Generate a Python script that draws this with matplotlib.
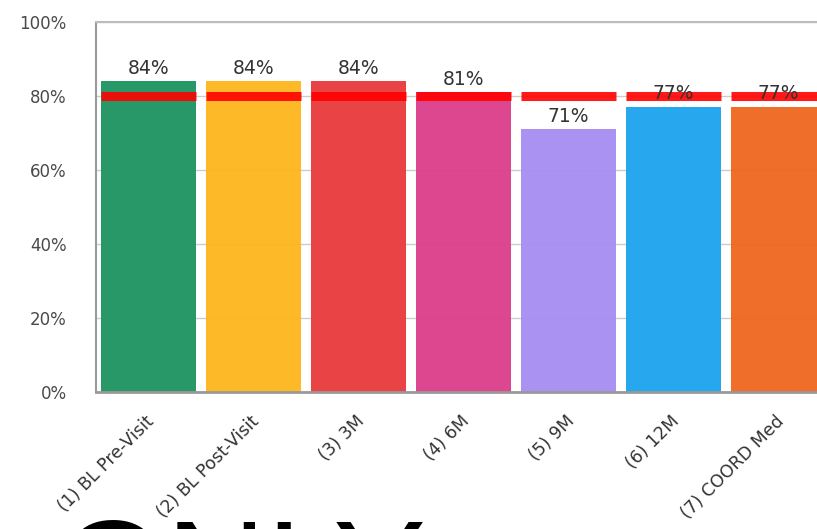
#!/usr/bin/env python3
"""Bar chart of visit percentages with 80% target markers."""

import matplotlib
matplotlib.use("Agg")
import matplotlib.pyplot as plt
from matplotlib.transforms import ScaledTranslation

# data
categories = ["(1) BL Pre-Visit", "(2) BL Post-Visit", "(3) 3M", "(4) 6M",
              "(5) 9M", "(6) 12M", "(7) COORD Med"]
values = [84, 84, 84, 81, 71, 77, 77]
targets = [80, 80, 80, 80, 80, 80, 80]
bar_colors = ["#1d9360", "#fdb51c", "#e8393c", "#dc3d8a",
              "#a68cf2", "#1ba4ee", "#ef661e"]
y_ticks = [0, 20, 40, 60, 80, 100]

W, H = 817, 529
fig = plt.figure(figsize=(W / 100, H / 100), dpi=100)
plt.rcParams["font.family"] = ["DejaVu Sans"]

# axes runs past the right edge, as in the cropped original
ax = fig.add_axes([96 / W, (H - 392) / H, 735 / W, 370 / H])

x = list(range(len(categories)))
ax.bar(x, values, width=0.9, color=bar_colors, alpha=0.95, linewidth=0, zorder=2)

# target markers
ax.hlines(targets, [i - 0.45 for i in x], [i + 0.45 for i in x],
          colors="#ff0000", linewidth=6.5, alpha=0.9, zorder=3)

for i, v in zip(x, values):
    ax.annotate(f"{v}%", (i, v), xytext=(0, 9.5), textcoords="offset points",
                ha="center", va="center", fontsize=13.5, color="#333333", zorder=4)

ax.set_xlim(-0.5, len(categories) - 0.5)
ax.set_ylim(0, 100)
ax.set_yticks(y_ticks)
ax.set_yticklabels([f"{t}%" for t in y_ticks], fontsize=12, color="#4a4a4a")
ax.tick_params(axis="y", length=0, pad=21)
ax.yaxis.grid(True, color="#cccccc", linewidth=1, zorder=0)
ax.set_axisbelow(True)

ax.set_xticks(x)
ax.set_xticklabels(categories, rotation=45, ha="right", va="center",
                   rotation_mode="anchor", fontsize=12.5, color="#333333")
ax.tick_params(axis="x", length=0, pad=19)
shift = ScaledTranslation(3 / 100, 0, fig.dpi_scale_trans)
for lab in ax.get_xticklabels():
    lab.set_transform(lab.get_transform() + shift)

ax.spines["left"].set_color("#9a9a9a")
ax.spines["left"].set_linewidth(1.5)
ax.spines["top"].set_color("#bdbdbd")
ax.spines["top"].set_linewidth(1.5)
ax.spines["bottom"].set_color("#999999")
ax.spines["bottom"].set_linewidth(2)
ax.spines["right"].set_visible(False)

# big watermark text, mostly cut off at the bottom
fig.text(58 / W, (H - 618) / H, "ONLY", fontsize=100, family="Liberation Sans",
         color="black", ha="left", va="baseline")

fig.savefig("out.png", dpi=100)
